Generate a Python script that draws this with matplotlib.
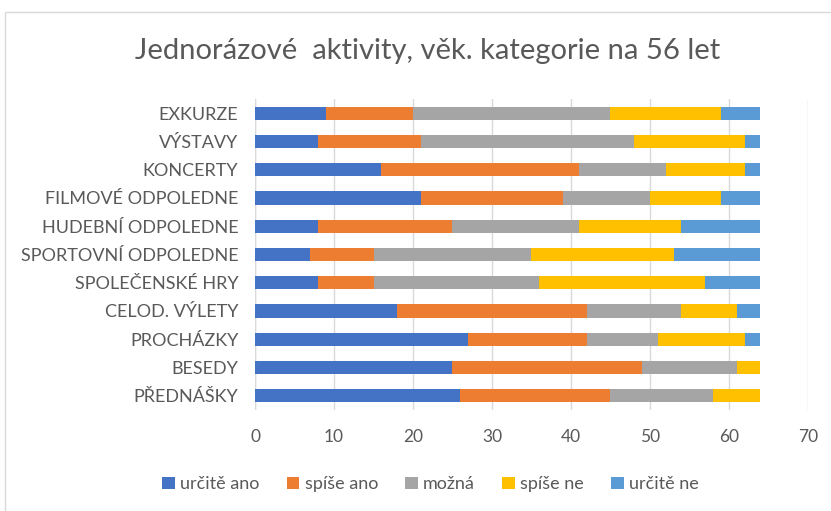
import numpy as np
import matplotlib.pyplot as plt
import matplotlib.patches as patches

plt.rcParams['font.family'] = ['Lato', 'DejaVu Sans']

kategorie = ['PŘEDNÁŠKY', 'BESEDY', 'PROCHÁZKY', 'CELOD. VÝLETY', 'SPOLEČENSKÉ HRY',
             'SPORTOVNÍ ODPOLEDNE', 'HUDEBNÍ ODPOLEDNE', 'FILMOVÉ ODPOLEDNE',
             'KONCERTY', 'VÝSTAVY', 'EXKURZE']
urcite_ano = [26, 25, 27, 18, 8, 7, 8, 21, 16, 8, 9]
spise_ano = [19, 24, 15, 24, 7, 8, 17, 18, 25, 13, 11]
mozna = [13, 12, 9, 12, 21, 20, 16, 11, 11, 27, 25]
spise_ne = [6, 3, 11, 7, 21, 18, 13, 9, 10, 14, 14]
urcite_ne = [0, 0, 2, 3, 7, 11, 10, 5, 2, 2, 5]

nazvy = ['určitě ano', 'spíše ano', 'možná', 'spíše ne', 'určitě ne']
barvy = ['#4472c4', '#ed7d31', '#a5a5a5', '#ffc000', '#5b9bd5']
text_barva = '#595959'

fig = plt.figure(figsize=(8.31, 5.11), dpi=100)
ax = fig.add_axes([0.307, 0.198, 0.665, 0.608])

y = np.arange(len(kategorie))
zleva = np.zeros(len(kategorie))
for hodnoty, nazev, barva in zip([urcite_ano, spise_ano, mozna, spise_ne, urcite_ne], nazvy, barvy):
    ax.barh(y, hodnoty, left=zleva, height=0.47, color=barva, label=nazev, zorder=3)
    zleva += np.array(hodnoty)

ax.set_xlim(0, 70)
ax.set_ylim(-0.5, len(kategorie) - 0.5)
ax.set_xticks(range(0, 71, 10))
ax.set_yticks(y)
ax.set_yticklabels(kategorie)
ax.xaxis.grid(True, color='#d9d9d9', linewidth=1, zorder=0)
for s in ax.spines.values():
    s.set_visible(False)
ax.axvline(0, color='#d9d9d9', linewidth=1, zorder=1)
ax.tick_params(axis='both', length=0, labelsize=12.5, labelcolor=text_barva)
ax.tick_params(axis='y', labelsize=13, pad=12)
ax.tick_params(axis='x', pad=14)

fig.suptitle('Jednorázové  aktivity, věk. kategorie na 56 let', x=0.515, y=0.925,
             fontsize=21, color=text_barva)

fig.legend(loc='center', bbox_to_anchor=(0.518, 0.052), ncol=5, frameon=False,
           fontsize=13, handlelength=0.7, handleheight=0.7, handletextpad=0.3,
           columnspacing=1.5, labelcolor=text_barva)

ramecek = patches.Rectangle((5 / 831, -0.01), 1.0, 1 - 12 / 511 + 0.01, transform=fig.transFigure,
                            fill=False, edgecolor='#d9d9d9', linewidth=1)
fig.add_artist(ramecek)

fig.savefig('out.png', dpi=100)
